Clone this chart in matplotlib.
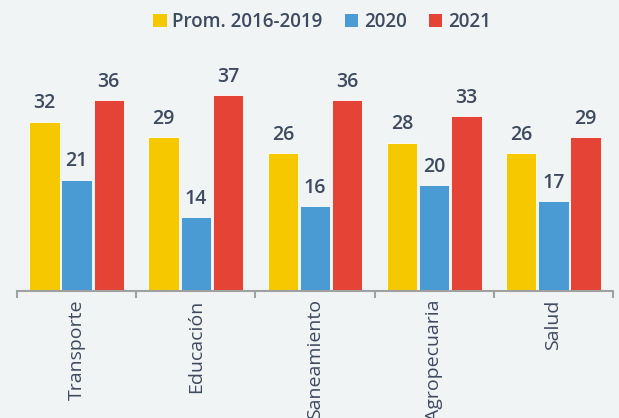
import matplotlib
matplotlib.use("Agg")
import matplotlib.pyplot as plt
import numpy as np
from matplotlib.patches import Patch

plt.rcParams["font.family"] = ["Open Sans", "DejaVu Sans"]

categorias = ["Transporte", "Educación", "Saneamiento", "Agropecuaria", "Salud"]
series = ["Prom. 2016-2019", "2020", "2021"]
prom_2016_2019 = [32, 29, 26, 28, 26]
anio_2020 = [21, 14, 16, 20, 17]
anio_2021 = [36, 37, 36, 33, 29]

colores = ["#F5C800", "#4A9AD4", "#E54335"]
texto = "#3E4A5E"
fondo = "#F0F4F5"

fig = plt.figure(figsize=(6.19, 4.18), dpi=100, facecolor=fondo)
ax = fig.add_axes([17 / 619, 1 - 291 / 418, 596 / 619, 241 / 418], facecolor=fondo)

x = np.arange(len(categorias))
ancho = 0.255
valores = [prom_2016_2019, anio_2020, anio_2021]
for i, (vals, col) in enumerate(zip(valores, colores)):
    pos = x + (i - 1) * (ancho + 0.015)
    barras = ax.bar(pos, vals, width=ancho, color=col, edgecolor="white", linewidth=0.6, zorder=2)
    for b, v in zip(barras, vals):
        ax.annotate(f"{v}", (b.get_x() + b.get_width() / 2, v), xytext=(0, 6),
                    textcoords="offset points", ha="center", va="bottom",
                    fontsize=14, fontweight="semibold", color=texto)

ax.set_xlim(-0.5, len(categorias) - 0.5)
ax.set_ylim(0, 45.5)
ax.set_yticks([])
for s in ["top", "left", "right"]:
    ax.spines[s].set_visible(False)
ax.spines["bottom"].set_color("#A0A0A0")
ax.spines["bottom"].set_linewidth(1.5)

ax.set_xticks(x)
ax.set_xticklabels(categorias, rotation=90, fontsize=14, color=texto, va="top")
ax.tick_params(axis="x", which="major", length=0, pad=6)
ax.set_xticks(np.arange(-0.5, len(categorias)), minor=True)
ax.tick_params(axis="x", which="minor", length=5, width=1.5, color="#A0A0A0")

handles = [Patch(facecolor=c, edgecolor="none") for c in colores]
leg = fig.legend(handles, series, loc="center", bbox_to_anchor=(322 / 619, 1 - 22 / 418),
                 ncol=3, frameon=False, handlelength=0.7, handleheight=0.7,
                 handletextpad=0.3, columnspacing=1.2, fontsize=13.5)
for t in leg.get_texts():
    t.set_color(texto)
    t.set_fontweight("semibold")

fig.savefig("out.png", dpi=100, facecolor=fondo)
